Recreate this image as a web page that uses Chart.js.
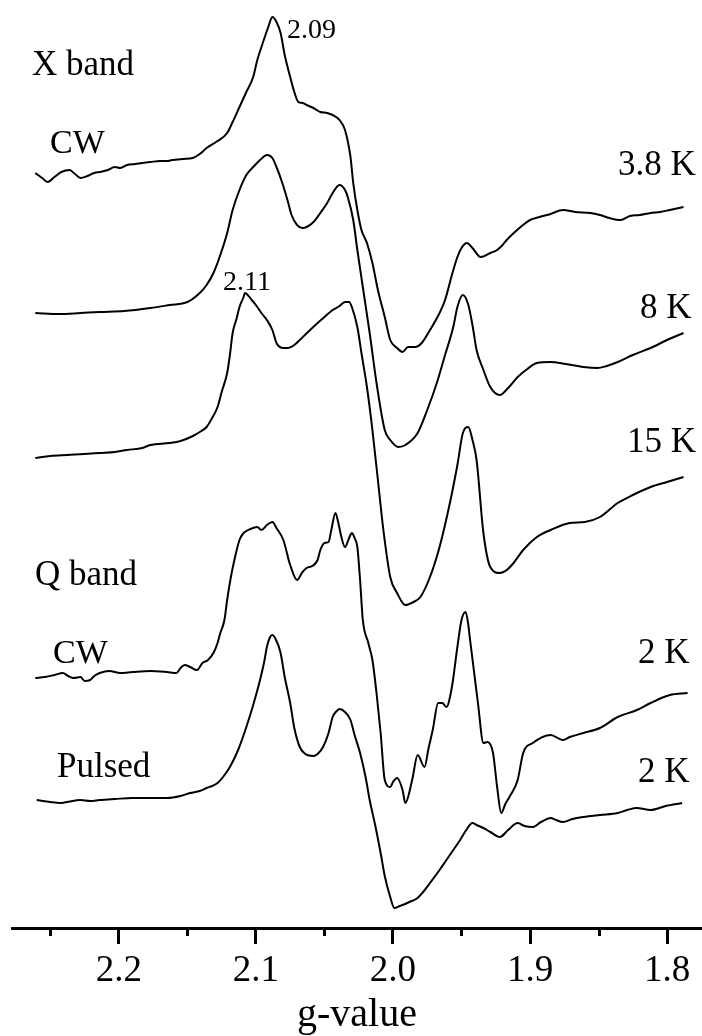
<!DOCTYPE html>
<html>
<head>
<meta charset="utf-8">
<script src="https://cdn.jsdelivr.net/npm/chart.js@4.4.1/dist/chart.umd.min.js"></script>
<style>
  html, body { margin: 0; padding: 0; background: #fff; }
  #wrap { width: 702px; height: 1036px; }
</style>
</head>
<body>
<div id="wrap"><canvas id="epr" width="702" height="1036"></canvas></div>
<script>
// ----- DATA (g-value vs. signal, arbitrary units, spectra stacked) -----
// X band CW, 3.8 K
const G_38K = [2.261,2.256,2.252,2.247,2.242,2.236,2.232,2.228,2.223,2.218,2.214,2.208,2.203,2.199,2.194,2.188,2.183,2.177,2.170,2.165,2.161,2.153,2.146,2.141,2.136,2.128,2.121,2.117,2.112,2.107,2.102,2.099,2.095,2.091,2.088,2.085,2.082,2.079,2.075,2.072,2.069,2.066,2.063,2.058,2.053,2.048,2.044,2.039,2.035,2.031,2.029,2.026,2.023,2.019,2.015,2.011,2.006,2.002,1.997,1.993,1.989,1.984,1.979,1.973,1.966,1.962,1.957,1.953,1.950,1.946,1.942,1.936,1.929,1.924,1.920,1.917,1.911,1.906,1.900,1.893,1.885,1.876,1.867,1.856,1.849,1.842,1.834,1.827,1.820,1.812,1.805,1.798,1.788];
const I_38K = [75.5,75.0,74.6,75.1,75.6,75.8,75.4,75.0,75.2,75.5,75.6,75.8,76.1,76.0,76.3,76.4,76.5,76.6,76.7,76.7,76.8,76.9,77.0,77.4,78.0,78.7,79.5,80.6,82.1,83.6,85.1,86.8,88.5,90.1,91.1,90.6,89.5,87.3,85.1,83.6,82.6,82.5,82.3,82.0,81.6,81.5,81.3,80.8,79.8,77.1,74.5,71.8,69.8,68.5,66.5,63.8,61.1,58.8,58.0,57.6,58.1,58.1,58.5,59.8,61.5,62.8,65.3,67.1,68.0,68.5,68.0,67.1,67.5,67.8,68.3,68.8,69.6,70.2,70.8,71.1,71.4,71.8,71.6,71.5,71.3,71.0,70.8,71.2,71.3,71.5,71.6,71.8,72.1];

// X band CW, 8 K
const G_8K = [2.261,2.243,2.228,2.214,2.196,2.177,2.163,2.150,2.141,2.136,2.131,2.126,2.121,2.117,2.112,2.107,2.102,2.097,2.092,2.088,2.085,2.081,2.077,2.074,2.070,2.066,2.063,2.058,2.053,2.048,2.044,2.039,2.035,2.033,2.029,2.026,2.022,2.017,2.012,2.006,2.002,1.996,1.991,1.982,1.975,1.968,1.962,1.956,1.953,1.949,1.945,1.942,1.939,1.934,1.929,1.922,1.916,1.909,1.902,1.895,1.885,1.874,1.861,1.851,1.844,1.836,1.825,1.812,1.800,1.788];
const I_8K = [61.5,61.4,61.5,61.6,61.7,62.0,62.3,62.6,63.5,64.3,65.5,67.3,69.5,71.8,73.8,75.3,76.1,76.8,77.3,77.0,76.1,74.6,72.8,71.3,70.3,70.0,70.1,70.6,71.5,72.5,73.5,74.3,73.8,73.1,70.8,67.8,64.1,59.5,54.5,49.8,48.8,48.1,48.3,49.5,51.8,54.5,57.3,60.1,62.1,63.3,62.3,60.3,57.8,55.8,54.1,53.3,54.0,55.1,55.9,56.5,56.6,56.4,56.1,56.0,56.2,56.6,57.3,58.0,58.8,59.5];

// X band CW, 15 K
const G_15K = [2.261,2.250,2.238,2.225,2.214,2.203,2.194,2.183,2.177,2.163,2.155,2.146,2.141,2.136,2.132,2.128,2.125,2.121,2.119,2.117,2.114,2.112,2.109,2.108,2.106,2.103,2.099,2.096,2.092,2.088,2.085,2.080,2.077,2.072,2.068,2.062,2.055,2.050,2.044,2.039,2.035,2.032,2.030,2.026,2.023,2.019,2.015,2.011,2.007,2.002,1.997,1.991,1.985,1.980,1.973,1.966,1.958,1.953,1.949,1.945,1.942,1.939,1.934,1.929,1.922,1.917,1.912,1.905,1.895,1.885,1.871,1.860,1.849,1.836,1.825,1.812,1.800,1.788];
const I_15K = [47.0,47.2,47.3,47.4,47.5,47.6,47.8,48.0,48.3,48.5,48.7,49.2,49.6,50.1,51.0,52.1,53.6,55.5,57.3,59.5,61.0,62.1,63.1,63.5,63.3,62.8,62.1,61.5,60.8,59.8,58.5,58.0,58.0,58.3,58.8,59.6,60.5,61.1,61.8,62.2,62.6,62.6,62.1,60.1,57.5,54.1,49.8,44.8,39.8,35.1,33.5,32.3,32.6,33.1,35.1,38.1,42.8,46.3,49.5,50.1,48.8,46.8,39.5,36.1,35.5,35.8,36.5,37.8,39.1,39.8,40.5,40.6,41.1,42.5,43.3,44.1,44.6,45.1];

// Q band CW, 2 K
const G_QCW = [2.261,2.254,2.247,2.241,2.237,2.233,2.228,2.225,2.221,2.218,2.214,2.207,2.199,2.190,2.177,2.165,2.158,2.155,2.152,2.148,2.143,2.139,2.135,2.131,2.128,2.126,2.123,2.121,2.118,2.114,2.112,2.109,2.104,2.099,2.096,2.092,2.088,2.085,2.080,2.075,2.070,2.066,2.063,2.059,2.055,2.053,2.050,2.047,2.045,2.042,2.040,2.038,2.035,2.032,2.030,2.028,2.026,2.024,2.022,2.018,2.015,2.012,2.009,2.006,2.002,2.000,1.997,1.993,1.991,1.986,1.982,1.977,1.974,1.971,1.967,1.964,1.961,1.957,1.953,1.950,1.947,1.945,1.944,1.941,1.938,1.934,1.931,1.927,1.924,1.921,1.918,1.915,1.909,1.905,1.898,1.885,1.876,1.871,1.861,1.849,1.836,1.822,1.812,1.798,1.785];
const I_QCW = [25.0,25.1,25.3,25.5,25.2,25.0,25.1,24.7,24.8,25.2,25.5,25.7,25.5,25.6,25.7,25.6,25.5,26.0,26.3,26.1,25.8,26.5,26.8,27.5,28.5,29.5,30.8,32.8,35.3,37.8,38.8,39.5,39.9,40.1,39.8,40.3,40.6,40.0,38.8,36.3,34.8,35.6,36.0,36.2,36.8,37.8,38.5,38.6,39.8,41.5,40.6,39.3,38.1,39.0,39.5,39.0,38.1,34.8,30.8,28.5,26.8,23.5,19.5,14.8,14.1,14.6,15.0,13.8,12.5,14.8,17.3,16.1,18.0,19.8,22.5,22.5,22.1,24.1,28.1,30.8,31.6,30.3,29.1,25.8,22.5,18.5,18.6,17.5,14.1,11.5,12.4,13.1,14.8,17.5,18.5,19.3,18.8,19.1,19.5,20.0,21.1,21.8,22.5,23.3,23.5];

// Q band pulsed, 2 K
const G_QP = [2.260,2.250,2.243,2.238,2.228,2.221,2.214,2.203,2.190,2.177,2.165,2.155,2.148,2.141,2.136,2.132,2.128,2.124,2.119,2.113,2.107,2.102,2.097,2.094,2.092,2.090,2.088,2.086,2.082,2.079,2.075,2.072,2.068,2.064,2.058,2.055,2.051,2.047,2.044,2.041,2.039,2.035,2.031,2.028,2.024,2.020,2.017,2.013,2.009,2.006,2.002,1.999,1.995,1.993,1.988,1.982,1.978,1.973,1.966,1.961,1.956,1.951,1.947,1.942,1.939,1.934,1.929,1.922,1.916,1.909,1.904,1.898,1.892,1.885,1.881,1.876,1.869,1.861,1.849,1.836,1.829,1.822,1.812,1.801,1.789];
const I_QP = [12.8,12.6,12.5,12.6,12.8,12.7,12.8,12.9,13.0,13.0,13.0,13.2,13.5,13.7,14.0,14.2,14.5,15.1,16.1,17.8,20.1,22.3,24.8,26.6,28.1,29.0,29.3,29.0,27.5,25.1,22.5,20.0,18.1,17.4,17.2,17.4,18.1,19.5,21.1,21.7,21.9,21.6,20.8,19.3,17.5,15.1,12.8,10.3,7.5,5.2,3.1,2.0,2.2,2.3,2.6,3.0,3.6,4.5,5.8,6.8,7.8,8.8,9.7,10.5,10.3,10.0,9.6,9.1,9.8,10.5,10.2,10.1,10.6,11.0,10.8,10.6,10.9,11.1,11.3,11.5,11.8,12.0,11.8,12.2,12.5];

const SERIES = [
  { name: 'X band CW 3.8 K', g: G_38K, v: I_38K },
  { name: 'X band CW 8 K', g: G_8K, v: I_8K },
  { name: 'X band CW 15 K', g: G_15K, v: I_15K },
  { name: 'Q band CW 2 K', g: G_QCW, v: I_QCW },
  { name: 'Q band pulsed 2 K', g: G_QP, v: I_QP }
];

const MAJOR_TICKS = [2.2, 2.1, 2.0, 1.9, 1.8];
const MINOR_TICKS = [2.25, 2.15, 2.05, 1.95, 1.85];
const G_MIN = 1.7745, G_MAX = 2.278;

// text placed on the figure: [text, left x, baseline y, font size]
const NOTES = [
  ['X band', 32, 75, 35], ['CW', 50, 153, 34], ['2.09', 287, 38, 28],
  ['2.11', 223, 290, 28], ['3.8 K', 618, 175, 35], ['8 K', 640, 318, 35],
  ['15 K', 627, 452, 35], ['Q band', 35, 585, 35], ['CW', 53, 663, 34],
  ['2 K', 638, 663, 35], ['Pulsed', 57, 777, 35], ['2 K', 638, 782, 35]
];

const SERIF = '"Liberation Serif", "Times New Roman", serif';

// ----- PLUGIN: minor ticks + labels -----
const extras = {
  id: 'extras',
  afterDraw(chart) {
    const ctx = chart.ctx;
    const xs = chart.scales.x;
    const y0 = chart.chartArea.bottom;
    ctx.save();
    ctx.strokeStyle = '#000';
    ctx.lineWidth = 3;
    MINOR_TICKS.forEach(g => {
      const px = Math.round(xs.getPixelForValue(g)) + 0.5;
      ctx.beginPath();
      ctx.moveTo(px, y0);
      ctx.lineTo(px, y0 + 8);
      ctx.stroke();
    });
    ctx.fillStyle = '#000';
    ctx.textBaseline = 'alphabetic';
    ctx.textAlign = 'left';
    NOTES.forEach(n => {
      ctx.font = n[3] + 'px ' + SERIF;
      ctx.fillText(n[0], n[1], n[2]);
    });
    ctx.restore();
  }
};

new Chart(document.getElementById('epr'), {
  type: 'line',
  data: {
    datasets: SERIES.map(s => ({
      label: s.name,
      data: s.g.map((g, i) => ({ x: g, y: s.v[i] })),
      borderColor: '#000',
      borderWidth: 2,
      pointRadius: 0,
      fill: false,
      cubicInterpolationMode: 'monotone'
    }))
  },
  options: {
    responsive: false,
    animation: false,
    devicePixelRatio: 1,
    layout: { padding: { left: 12, right: 0, top: 0, bottom: 0 } },
    plugins: { legend: { display: false }, tooltip: { enabled: false } },
    scales: {
      x: {
        type: 'linear',
        reverse: true,
        min: G_MIN,
        max: G_MAX,
        afterBuildTicks: sc => { sc.ticks = MAJOR_TICKS.map(v => ({ value: v })); },
        afterFit: sc => { sc.height = 108; },
        border: { display: true, width: 3, color: '#000' },
        grid: { display: true, drawOnChartArea: false, drawTicks: true, tickLength: 16, tickWidth: 3, tickColor: '#000' },
        ticks: {
          color: '#000',
          padding: 5,
          maxRotation: 0,
          autoSkip: false,
          font: { family: SERIF, size: 37 },
          callback: v => Number(v).toFixed(1)
        },
        title: {
          display: true,
          text: 'g-value',
          color: '#000',
          font: { family: SERIF, size: 40, lineHeight: 1 },
          padding: { top: 0, bottom: 1 }
        }
      },
      y: { display: false, min: 0, max: 92.8 }
    }
  },
  plugins: [extras]
});
</script>
</body>
</html>
